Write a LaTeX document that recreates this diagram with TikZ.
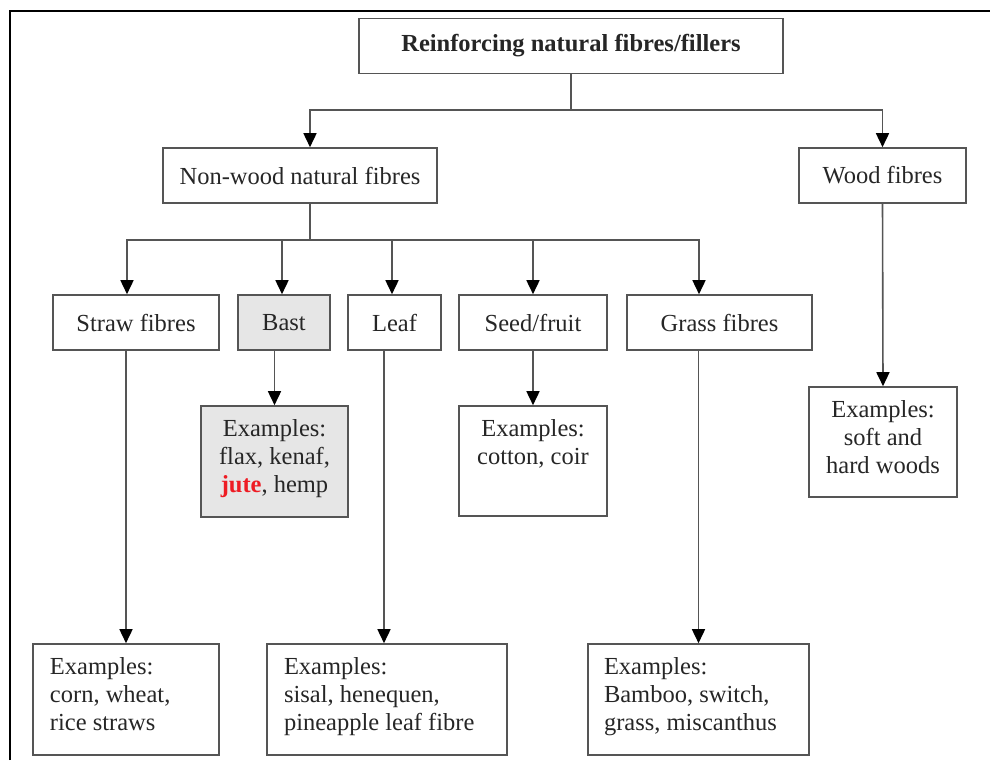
\documentclass[tikz,border=0pt]{standalone}
\usepackage{fontspec}
\setmainfont{Liberation Serif}
\usepackage{tikz}
\usetikzlibrary{arrows.meta}

\definecolor{linec}{HTML}{555555}
\definecolor{textc}{HTML}{262626}
\definecolor{bastgray}{HTML}{E6E6E6}
\definecolor{jutered}{HTML}{EE1C24}

% example box text: width, height, alignment, lines
\newcommand{\exlist}[4]{\parbox[c][#2][t]{#1}{#3\rule{0pt}{30pt}#4}}

\tikzset{
  box/.style={draw=linec, line width=1.6pt, text=textc, inner sep=0pt,
    minimum height=55pt, font=\fontsize{24.5}{28}\selectfont},
  exbox/.style={draw=linec, line width=1.6pt, text=textc, inner sep=0pt,
    font=\fontsize{24.5}{28}\selectfont},
  link/.style={draw=linec, line width=1.6pt},
  arr/.style={link, -{Triangle[length=14pt,width=13pt,color=black]}}
}

\begin{document}
\begin{tikzpicture}[x=1pt,y=-1pt]
  \useasboundingbox (0,0) rectangle (990,760);
  \draw [line width=2pt] (10,760) -- (10,11) -- (990,11);

  % top levels
  \node [box, minimum width=424pt, font=\fontsize{24.5}{28}\selectfont\bfseries] (top) at (571,46) {Reinforcing natural fibres/fillers};
  \node [box, minimum width=274pt] (nonwood) at (300,175.5) {Non-wood natural fibres};
  \node [box, minimum width=167pt] (wood) at (882.5,175.5) {Wood fibres};

  % non-wood groups
  \node [box, minimum width=166pt] (straw) at (136,322.5) {Straw fibres};
  \node [box, minimum width=92pt, fill=bastgray] (bast) at (284,322.5) {Bast};
  \node [box, minimum width=93pt] (leaf) at (394.5,322.5) {Leaf};
  \node [box, minimum width=148pt] (seed) at (533,322.5) {Seed/fruit};
  \node [box, minimum width=185pt] (grass) at (719.5,322.5) {Grass fibres};

  % examples
  \node [exbox, fill=bastgray] (bastex) at (274.5,461.5)
    {\exlist{147pt}{111pt}{\centering}{Examples:\\ flax, kenaf,\\ \textcolor{jutered}{\textbf{jute}}, hemp}};
  \node [exbox] (seedex) at (533,461)
    {\exlist{148pt}{110pt}{\centering}{Examples:\\ cotton, coir}};
  \node [exbox] (woodex) at (883,442)
    {\exlist{148pt}{110pt}{\centering}{Examples:\\ soft and\\ hard woods}};
  \node [exbox] (strawex) at (126,699.5)
    {\exlist{186pt}{111pt}{\raggedright\leftskip=17pt}{Examples:\\ corn, wheat,\\ rice straws}};
  \node [exbox] (leafex) at (387,699.5)
    {\exlist{240pt}{111pt}{\raggedright\leftskip=17pt}{Examples:\\ sisal, henequen,\\ pineapple leaf fibre}};
  \node [exbox] (grassex) at (698.5,699.5)
    {\exlist{221pt}{111pt}{\raggedright\leftskip=16pt}{Examples:\\ Bamboo, switch,\\ grass, miscanthus}};

  % connectors
  \coordinate (split1) at (571,110);
  \draw [link] (top.south) -- (split1);
  \draw [arr] (split1) -| ([xshift=10pt]nonwood.north);
  \draw [arr] (split1) -| (wood.north);

  \coordinate (split2) at (310,240);
  \draw [link] ([xshift=10pt]nonwood.south) -- (split2);
  \draw [arr] (split2) -| ([xshift=-9pt]straw.north);
  \draw [arr] (split2) -| ([xshift=-2pt]bast.north);
  \draw [arr] (split2) -| ([xshift=-2.5pt]leaf.north);
  \draw [arr] (split2) -| (seed.north);
  \draw [arr] (split2) -| ([xshift=-20.5pt]grass.north);

  \draw [arr] (strawex.north |- straw.south) -- (strawex.north);
  \draw [arr] (bastex.north |- bast.south) -- (bastex.north);
  \draw [arr] ([xshift=-3pt]leafex.north |- leaf.south) -- ([xshift=-3pt]leafex.north);
  \draw [arr] (seed.south) -- (seedex.north);
  \draw [arr] (grassex.north |- grass.south) -- (grassex.north);
  \draw [arr] (wood.south) -- (woodex.north);
\end{tikzpicture}
\end{document}
